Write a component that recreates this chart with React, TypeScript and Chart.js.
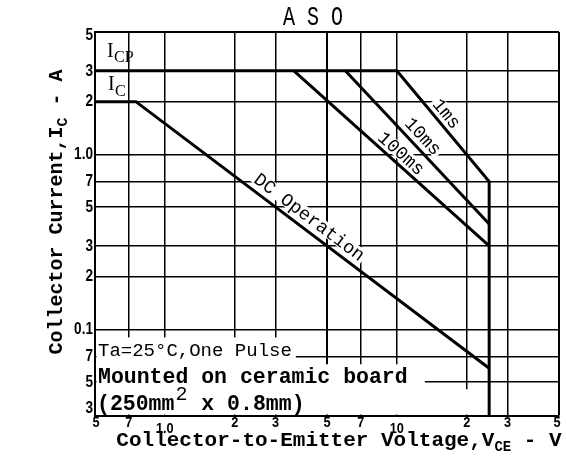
import React, { useEffect, useRef } from "react";
import { Chart, registerables } from "chart.js";

Chart.register(...registerables);

// ---- axis ranges and ticks ----
const X_MIN = 0.5;
const X_MAX = 50;
const Y_MIN = 0.032;
const Y_MAX = 5;

const X_TICKS = [0.5, 0.7, 1, 2, 3, 5, 7, 10, 20, 30, 50];
const X_TICK_LABELS = ["5", "7", "1.0", "2", "3", "5", "7", "10", "2", "3", "5"];
const Y_TICKS = [0.03, 0.05, 0.07, 0.1, 0.2, 0.3, 0.5, 0.7, 1, 2, 3, 5];
const Y_TICK_LABELS = ["3", "5", "7", "0.1", "2", "3", "5", "7", "1.0", "2", "3", "5"];

// ---- curves (V_CE in V, I_C in A) ----
const DC_V = [0.5, 0.75, 25];
const DC_I = [2, 2, 0.06];
const MS1_V = [0.5, 10, 25, 25];
const MS1_I = [3, 3, 0.7, 0.03];
const MS10_V = [6, 25];
const MS10_I = [3, 0.4];
const MS100_V = [3.6, 25];
const MS100_I = [3, 0.3];

// ---- texts ----
const TITLE = "A S O";
const X_TITLE = ["Collector-to-Emitter Voltage,V", "CE", " - V"];
const Y_TITLE = ["Collector Current,I", "C", " - A"];
const NOTE1 = "Ta=25\u00B0C,One Pulse";
const NOTE2 = "Mounted on ceramic board";
const NOTE3 = ["(250mm", "2", " x 0.8mm)"];

const MONO = "'Liberation Mono', 'DejaVu Sans Mono', monospace";
const SERIF = "'Liberation Serif', 'DejaVu Serif', serif";
const SANS = "'Liberation Sans', 'DejaVu Sans', sans-serif";

// line labels: segment (values), fraction along, perpendicular offset
const LINE_LABELS = [
  { text: "DC Operation", v: [DC_V[1], DC_V[2]], i: [DC_I[1], DC_I[2]], t: 0.47, off: 12.5 },
  { text: "1ms", v: [MS1_V[1], MS1_V[2]], i: [MS1_I[1], MS1_I[2]], t: 0.45, off: 11 },
  { text: "10ms", v: [MS10_V[0], MS10_V[1]], i: [MS10_I[0], MS10_I[1]], t: 0.48, off: 12 },
  { text: "100ms", v: [MS100_V[0], MS100_V[1]], i: [MS100_I[0], MS100_I[1]], t: 0.515, off: 10.5 },
];

// white areas behind the notes (value boxes)
const MASKS = [
  { v: [0.5, 3.67], i: [Y_MIN, 0.09] },
  { v: [3.67, 13.2], i: [Y_MIN, 0.0632] },
  { v: [13.2, 28.5], i: [Y_MIN, 0.0455] },
];

function pts(vs: number[], is: number[]) {
  return vs.map((v, k) => ({ x: v, y: is[k] }));
}

function drawSubText(
  ctx: CanvasRenderingContext2D,
  parts: string[],
  mainFont: string,
  subFont: string,
  subDy: number,
  cx: number,
  baseY: number
) {
  ctx.font = mainFont;
  const w0 = ctx.measureText(parts[0]).width;
  const w2 = ctx.measureText(parts[2]).width;
  ctx.font = subFont;
  const w1 = ctx.measureText(parts[1]).width;
  let x = cx - (w0 + w1 + w2) / 2;
  ctx.textAlign = "left";
  ctx.textBaseline = "alphabetic";
  ctx.font = mainFont;
  ctx.fillText(parts[0], x, baseY);
  x += w0;
  ctx.font = subFont;
  ctx.fillText(parts[1], x, baseY + subDy);
  x += w1;
  ctx.font = mainFont;
  ctx.fillText(parts[2], x, baseY);
}

function scaledText(ctx: CanvasRenderingContext2D, t: string, x: number, y: number, sx: number) {
  ctx.save();
  ctx.translate(x, y);
  ctx.scale(sx, 1);
  ctx.fillText(t, 0, 0);
  ctx.restore();
}

const asoPlugin = {
  id: "asoDecor",
  beforeDatasetsDraw(chart: any) {
    const ctx: CanvasRenderingContext2D = chart.ctx;
    const xs = chart.scales.x;
    const ys = chart.scales.y;
    const a = chart.chartArea;
    ctx.save();
    ctx.fillStyle = "#fff";
    for (const m of MASKS) {
      const x0 = Math.max(xs.getPixelForValue(m.v[0]), a.left + 1.5);
      const x1 = Math.min(xs.getPixelForValue(m.v[1]), a.right - 1.5);
      const y0 = ys.getPixelForValue(m.i[1]);
      const y1 = Math.min(ys.getPixelForValue(m.i[0]), a.bottom - 1.5);
      ctx.fillRect(x0, y0, x1 - x0, y1 - y0);
    }
    ctx.restore();
  },
  afterDatasetsDraw(chart: any) {
    const ctx: CanvasRenderingContext2D = chart.ctx;
    const xs = chart.scales.x;
    const ys = chart.scales.y;
    const a = chart.chartArea;
    ctx.save();
    ctx.fillStyle = "#000";

    // tick labels
    ctx.font = `bold 17px ${SANS}`;
    ctx.textBaseline = "middle";
    ctx.textAlign = "right";
    Y_TICKS.forEach((v, k) => {
      let y = ys.getPixelForValue(v);
      y = Math.max(a.top + 3, Math.min(a.bottom - 8, y));
      scaledText(ctx, Y_TICK_LABELS[k], a.left - 2, y, 0.8);
    });
    ctx.font = `bold 15px ${SANS}`;
    ctx.textAlign = "center";
    X_TICKS.forEach((v, k) => {
      let x = xs.getPixelForValue(v);
      x = Math.max(a.left + 1, Math.min(a.right - 2, x));
      const decade = Math.abs(Math.log10(v) - Math.round(Math.log10(v))) < 1e-9;
      scaledText(ctx, X_TICK_LABELS[k], x, a.bottom + (decade ? 13 : 7), 0.85);
    });

    // title
    ctx.save();
    ctx.font = `20px ${MONO}`;
    ctx.textAlign = "center";
    ctx.textBaseline = "alphabetic";
    ctx.translate(313, 25);
    ctx.scale(1, 1.42);
    ctx.fillText(TITLE, 0, 0);
    ctx.restore();

    // axis titles
    drawSubText(ctx, X_TITLE, `bold 21px ${MONO}`, `bold 14px ${MONO}`, 5, 339, a.bottom + 30);
    ctx.save();
    ctx.translate(a.left - 33, (a.top + a.bottom) / 2 - 12);
    ctx.rotate(-Math.PI / 2);
    drawSubText(ctx, Y_TITLE, `bold 20px ${MONO}`, `bold 15px ${MONO}`, 5, 0, 0);
    ctx.restore();

    // I_CP and I_C labels
    ctx.textAlign = "left";
    ctx.textBaseline = "alphabetic";
    ctx.font = `20px ${SERIF}`;
    ctx.fillText("I", a.left + 12, a.top + 24.5);
    ctx.font = `16px ${SERIF}`;
    ctx.fillText("CP", a.left + 19, a.top + 29.5);
    ctx.font = `20px ${SERIF}`;
    ctx.fillText("I", a.left + 13, a.top + 57.5);
    ctx.font = `16px ${SERIF}`;
    ctx.fillText("C", a.left + 20, a.top + 64);

    // notes
    ctx.font = `19px ${MONO}`;
    ctx.fillText(NOTE1, a.left + 3, a.bottom - 60);
    ctx.font = `bold 21.5px ${MONO}`;
    ctx.fillText(NOTE2, a.left + 3, a.bottom - 33);
    let nx = a.left + 2;
    ctx.fillText(NOTE3[0], nx, a.bottom - 6);
    nx += ctx.measureText(NOTE3[0]).width;
    ctx.font = `20px ${MONO}`;
    ctx.fillText(NOTE3[1], nx + 1, a.bottom - 16);
    nx += ctx.measureText(NOTE3[1]).width + 2;
    ctx.font = `bold 21.5px ${MONO}`;
    ctx.fillText(NOTE3[2], nx, a.bottom - 6);

    // labels along lines
    ctx.font = `18.5px ${MONO}`;
    ctx.textAlign = "center";
    ctx.textBaseline = "middle";
    for (const L of LINE_LABELS) {
      const p0x = xs.getPixelForValue(L.v[0]);
      const p0y = ys.getPixelForValue(L.i[0]);
      const p1x = xs.getPixelForValue(L.v[1]);
      const p1y = ys.getPixelForValue(L.i[1]);
      const dx = p1x - p0x;
      const dy = p1y - p0y;
      const len = Math.hypot(dx, dy);
      const ux = dx / len;
      const uy = dy / len;
      const nxv = uy;
      const nyv = -ux;
      const cx = p0x + ux * len * L.t + nxv * L.off;
      const cy = p0y + uy * len * L.t + nyv * L.off;
      const w = ctx.measureText(L.text).width;
      ctx.save();
      ctx.translate(cx, cy);
      ctx.rotate(Math.atan2(uy, ux));
      ctx.fillStyle = "#fff";
      ctx.fillRect(-w / 2 - 2, -7, w + 4, 14);
      ctx.fillStyle = "#000";
      ctx.fillText(L.text, 0, 1);
      ctx.restore();
    }
    ctx.restore();
  },
};

export default function App() {
  const ref = useRef<HTMLCanvasElement>(null);
  useEffect(() => {
    const canvas = ref.current;
    if (!canvas) return;
    const lineDs = (data: { x: number; y: number }[]) => ({
      data,
      borderColor: "#000",
      borderWidth: 3,
      pointRadius: 0,
      fill: false,
      tension: 0,
    });
    const gridWidth = (c: any) => {
      const v = c.tick ? c.tick.value : 0;
      return v === X_MAX || v === Y_MAX ? 2 : 1.5;
    };
    const chart = new Chart(canvas, {
      type: "line",
      data: {
        datasets: [
          lineDs(pts(DC_V, DC_I)),
          lineDs(pts(MS1_V, MS1_I)),
          lineDs(pts(MS10_V, MS10_I)),
          lineDs(pts(MS100_V, MS100_I)),
        ],
      },
      options: {
        responsive: false,
        animation: false,
        layout: { padding: { left: 95, right: 7, top: 32, bottom: 50 } },
        plugins: {
          legend: { display: false },
          tooltip: { enabled: false },
          title: { display: false },
        },
        scales: {
          x: {
            type: "logarithmic",
            min: X_MIN,
            max: X_MAX,
            afterBuildTicks: (s: any) => {
              s.ticks = X_TICKS.map((v) => ({ value: v }));
            },
            ticks: { display: false },
            grid: { color: "#000", lineWidth: gridWidth, drawTicks: false },
            border: { color: "#000", width: 2 },
          },
          y: {
            type: "logarithmic",
            min: Y_MIN,
            max: Y_MAX,
            afterBuildTicks: (s: any) => {
              s.ticks = Y_TICKS.filter((v) => v >= Y_MIN).map((v) => ({ value: v }));
            },
            ticks: { display: false },
            grid: { color: "#000", lineWidth: gridWidth, drawTicks: false },
            border: { color: "#000", width: 2 },
          },
        },
      } as any,
      plugins: [asoPlugin],
    });
    return () => chart.destroy();
  }, []);
  return (
    <div style={{ position: "fixed", left: 0, top: 0, width: 566, height: 466, background: "#fff" }}>
      <canvas ref={ref} width={566} height={466} style={{ display: "block" }} />
    </div>
  );
}
